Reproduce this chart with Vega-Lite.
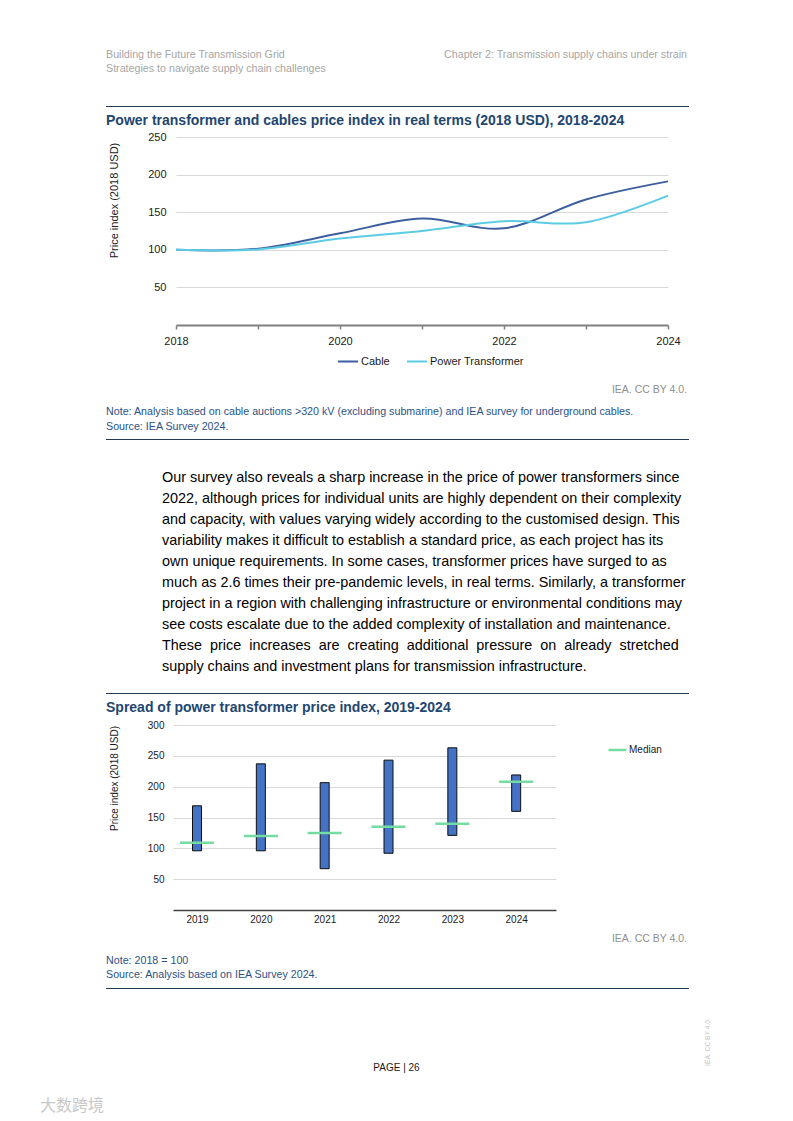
{
  "$schema": "https://vega.github.io/schema/vega-lite/v6.json",
  "padding": 0,
  "background": "white",
  "datasets": {
    "empty": [],
    "prices": [
      {"year": 2018, "series": "Cable", "value": 100},
      {"year": 2019, "series": "Cable", "value": 101.5},
      {"year": 2020, "series": "Cable", "value": 122},
      {"year": 2021, "series": "Cable", "value": 141.5},
      {"year": 2022, "series": "Cable", "value": 128.5},
      {"year": 2023, "series": "Cable", "value": 167},
      {"year": 2024, "series": "Cable", "value": 191},
      {"year": 2018, "series": "Power Transformer", "value": 100},
      {"year": 2019, "series": "Power Transformer", "value": 100.5},
      {"year": 2020, "series": "Power Transformer", "value": 115},
      {"year": 2021, "series": "Power Transformer", "value": 125},
      {"year": 2022, "series": "Power Transformer", "value": 138},
      {"year": 2023, "series": "Power Transformer", "value": 136.5},
      {"year": 2024, "series": "Power Transformer", "value": 172}
    ],
    "spread": [
      {"year": "2019", "low": 96, "high": 169, "median": 109},
      {"year": "2020", "low": 96, "high": 237, "median": 120},
      {"year": "2021", "low": 67, "high": 206.5, "median": 125},
      {"year": "2022", "low": 92, "high": 243, "median": 135},
      {"year": "2023", "low": 121, "high": 263, "median": 140},
      {"year": "2024", "low": 160, "high": 219, "median": 208}
    ]
  },
  "config": {
    "font": "Liberation Sans",
    "view": {"stroke": null},
    "title": {"anchor": "start", "frame": "group", "offset": 0, "fontWeight": "normal", "font": "Liberation Sans"},
    "axis": {"labelFont": "Liberation Sans", "titleFont": "Liberation Sans", "labelOverlap": false},
    "legend": {"labelFont": "Liberation Sans"}
  },
  "spacing": 0,
  "bounds": "flush",
  "resolve": {"scale": {"color": "independent", "stroke": "independent"}, "legend": {"color": "independent", "stroke": "independent"}},
  "hconcat": [
    {"data": {"name": "empty"}, "mark": "point", "encoding": {}, "width": 106, "height": 1121},
    {
      "spacing": 0,
      "bounds": "flush",
      "vconcat": [
        {"data": {"name": "empty"}, "mark": "point", "encoding": {}, "width": 581, "height": 61},
        {"data": {"name": "empty"}, "mark": "point", "encoding": {}, "width": 581, "height": 14,
         "title": {"text": "Chapter 2: Transmission supply chains under strain", "anchor": "end", "offset": 0, "fontSize": 10.7, "color": "#a6a6a6"}},
        {"data": {"name": "empty"}, "mark": "point", "encoding": {}, "width": 581, "height": 31,
         "title": {"text": ["Building the Future Transmission Grid", "Strategies to navigate supply chain challenges"], "fontSize": 10.7, "lineHeight": 13.5, "color": "#a6a6a6", "offset": 0.5}},
        {"data": {"name": "empty"}, "mark": "point", "encoding": {}, "width": 583, "height": 1, "view": {"fill": "#1f3b57", "stroke": null}},
        {"data": {"name": "empty"}, "mark": "point", "encoding": {}, "width": 583, "height": 30,
         "title": {"text": "Power transformer and cables price index in real terms (2018 USD), 2018-2024", "fontSize": 14, "fontWeight": "bold", "color": "#22466f", "offset": -20.5}},
        {"data": {"name": "empty"}, "mark": "point", "encoding": {}, "width": 581, "height": 188},
        {"data": {"name": "empty"}, "mark": "point", "encoding": {}, "width": 581, "height": 107,
         "title": {"text": "IEA. CC BY 4.0.", "anchor": "end", "offset": -70, "fontSize": 10.5, "color": "#8f8f8f"}},
        {"data": {"name": "empty"}, "mark": "point", "encoding": {}, "width": 581, "height": 7,
         "title": {"text": ["Note: Analysis based on cable auctions >320 kV (excluding submarine) and IEA survey for underground cables.", "Source: IEA Survey 2024."], "fontSize": 10.7, "lineHeight": 15, "color": "#2b5286", "offset": -0.8}},
        {"data": {"name": "empty"}, "mark": "point", "encoding": {}, "width": 583, "height": 1, "view": {"fill": "#1f3b57", "stroke": null}},
        {"data": {"name": "empty"}, "mark": "point", "encoding": {}, "width": 583, "height": 253,
         "title": {"text": [
           "Our survey also reveals a sharp increase in the price of power transformers since",
           "2022, although prices for individual units are highly dependent on their complexity",
           "and capacity, with values varying widely according to the customised design. This",
           "variability makes it difficult to establish a standard price, as each project has its",
           "own unique requirements. In some cases, transformer prices have surged to as",
           "much as 2.6 times their pre-pandemic levels, in real terms. Similarly, a transformer",
           "project in a region with challenging infrastructure or environmental conditions may",
           "see costs escalate due to the added complexity of installation and maintenance.",
           "These \u00a0price \u00a0increases \u00a0are \u00a0creating \u00a0additional \u00a0pressure \u00a0on \u00a0already \u00a0stretched",
           "supply chains and investment plans for transmission infrastructure."
         ], "fontSize": 14.4, "lineHeight": 21, "color": "#000000", "dx": 56, "offset": -233.9}},
        {"data": {"name": "empty"}, "mark": "point", "encoding": {}, "width": 583, "height": 1, "view": {"fill": "#1f3b57", "stroke": null}},
        {"data": {"name": "empty"}, "mark": "point", "encoding": {}, "width": 583, "height": 31,
         "title": {"text": "Spread of power transformer price index, 2019-2024", "fontSize": 14, "fontWeight": "bold", "color": "#22466f", "offset": -21}},
        {"data": {"name": "empty"}, "mark": "point", "encoding": {}, "width": 581, "height": 185},
        {"data": {"name": "empty"}, "mark": "point", "encoding": {}, "width": 581, "height": 69,
         "title": {"text": "IEA. CC BY 4.0.", "anchor": "end", "offset": -34, "fontSize": 10.5, "color": "#8f8f8f"}},
        {"data": {"name": "empty"}, "mark": "point", "encoding": {}, "width": 581, "height": 9,
         "title": {"text": ["Note: 2018 = 100", "Source: Analysis based on IEA Survey 2024."], "fontSize": 10.7, "lineHeight": 14, "color": "#2b5286", "offset": -2}},
        {"data": {"name": "empty"}, "mark": "point", "encoding": {}, "width": 583, "height": 1, "view": {"fill": "#1f3b57", "stroke": null}},
        {"data": {"name": "empty"}, "mark": "point", "encoding": {}, "width": 581, "height": 29},
        {"data": {"name": "empty"}, "mark": "point", "encoding": {}, "width": 581, "height": 55,
         "title": {"text": "PAGE | 26", "anchor": "middle", "offset": -55, "fontSize": 10, "color": "#1a1a1a"}},
        {"data": {"name": "empty"}, "mark": "point", "encoding": {}, "width": 581, "height": 41,
         "title": {"text": "大数跨境", "font": "Noto Sans CJK SC", "fontSize": 16, "color": "#c8c8c8", "dx": -66, "offset": -41}}
      ]
    },
    {"data": {"name": "empty"}, "mark": "point", "encoding": {}, "width": 67, "height": 1},
    {
      "spacing": 0,
      "bounds": "flush",
      "resolve": {"scale": {"stroke": "independent"}, "legend": {"stroke": "independent"}},
      "vconcat": [
        {"data": {"name": "empty"}, "mark": "point", "encoding": {}, "width": 1, "height": 725},
        {
          "width": 383,
          "height": 185,
          "data": {"name": "spread"},
          "encoding": {
            "x": {"field": "year", "type": "ordinal",
              "scale": {"type": "point", "padding": 0.5, "align": 0.376},
              "axis": {"title": null, "ticks": false, "tickSize": 0, "labelPadding": 4.5, "labelFontSize": 10,
                "labelAngle": 0, "domainColor": "#404040", "domainWidth": 1.5, "labelColor": "#1a1a1a", "grid": false}}
          },
          "layer": [
            {
              "mark": {"type": "bar", "size": 9, "fill": "#4472c4", "stroke": "#0f0f0f", "strokeWidth": 1},
              "encoding": {
                "y": {"field": "low", "type": "quantitative",
                  "scale": {"domain": [0, 300], "nice": false},
                  "axis": {"values": [50, 100, 150, 200, 250, 300], "grid": true, "gridColor": "#d9d9d9", "domain": false,
                    "ticks": false, "tickSize": 0, "labelPadding": 9, "labelFontSize": 10, "labelColor": "#1a1a1a", "labelOverlap": false,
                    "title": "Price index (2018 USD)", "titleFontSize": 10, "titleFontWeight": "normal", "titleColor": "#1a1a1a",
                    "titleX": -53.5, "titleY": 53}},
                "y2": {"field": "high"}
              }
            },
            {
              "mark": {"type": "rule", "strokeWidth": 2.5, "xOffset": -17, "x2Offset": 17},
              "encoding": {
                "x2": {"field": "year"},
                "y": {"field": "median", "type": "quantitative",
                  "scale": {"domain": [0, 300], "nice": false},
                  "axis": {"values": [50, 100, 150, 200, 250, 300], "grid": true, "gridColor": "#d9d9d9", "domain": false,
                    "ticks": false, "tickSize": 0, "labelPadding": 9, "labelFontSize": 10, "labelColor": "#1a1a1a", "labelOverlap": false,
                    "title": "Price index (2018 USD)", "titleFontSize": 10, "titleFontWeight": "normal", "titleColor": "#1a1a1a",
                    "titleX": -53.5, "titleY": 53}},
                "stroke": {"datum": "Median", "type": "nominal",
                  "scale": {"domain": ["Median"], "range": ["#74dca0"]},
                  "legend": {"orient": "none", "legendX": 434, "legendY": 14.5, "title": null,
                    "symbolType": "stroke", "symbolSize": 324, "symbolStrokeWidth": 2.5, "labelFontSize": 10,
                    "labelOffset": 1, "padding": 0, "labelColor": "#1a1a1a"}}
              }
            }
          ]
        }
      ]
    },
    {"data": {"name": "empty"}, "mark": "point", "encoding": {}, "width": 3, "height": 1},
    {
      "spacing": 0,
      "bounds": "flush",
      "resolve": {"scale": {"color": "independent"}, "legend": {"color": "independent"}},
      "vconcat": [
        {"data": {"name": "empty"}, "mark": "point", "encoding": {}, "width": 1, "height": 137},
        {
          "width": 492,
          "height": 188,
          "data": {"name": "prices"},
          "mark": {"type": "line", "interpolate": "cardinal", "strokeWidth": 2},
          "encoding": {
            "x": {"field": "year", "type": "quantitative",
              "scale": {"domain": [2018, 2024], "nice": false, "zero": false},
              "axis": {"values": [2018, 2019, 2020, 2021, 2022, 2023, 2024], "format": "d",
                "labelExpr": "datum.value % 2 == 0 ? datum.label : ''",
                "labelFlush": false, "labelOverlap": false, "grid": false, "title": null,
                "domainColor": "#808080", "domainWidth": 2, "tickColor": "#808080", "tickWidth": 1.5, "tickSize": 4,
                "labelPadding": 6, "labelFontSize": 11, "labelColor": "#1a1a1a"}},
            "y": {"field": "value", "type": "quantitative",
              "scale": {"domain": [0, 250], "nice": false},
              "axis": {"values": [50, 100, 150, 200, 250], "grid": true, "gridColor": "#d9d9d9", "domain": false,
                "ticks": false, "tickSize": 0, "labelPadding": 10, "labelFontSize": 11, "labelColor": "#1a1a1a",
                "title": "Price index (2018 USD)", "titleFontSize": 11, "titleFontWeight": "normal", "titleColor": "#1a1a1a",
                "titleX": -56.5, "titleY": 63}},
            "color": {"field": "series", "type": "nominal",
              "scale": {"domain": ["Cable", "Power Transformer"], "range": ["#3d5f9f", "#5ccbe4"]},
              "legend": {"orient": "none", "legendX": 161, "legendY": 213.5, "direction": "horizontal", "title": null,
                "symbolType": "stroke", "symbolSize": 400, "symbolStrokeWidth": 2, "labelFontSize": 11,
                "labelOffset": 2, "columnPadding": 13, "padding": 0, "labelColor": "#1a1a1a"}}
          }
        }
      ]
    },
    {"data": {"name": "empty"}, "mark": "point", "encoding": {}, "width": 536, "height": 1},
    {
      "spacing": 0,
      "bounds": "flush",
      "vconcat": [
        {"data": {"name": "empty"}, "mark": "point", "encoding": {}, "width": 1, "height": 1018},
        {"data": {"name": "empty"}, "mark": "point", "encoding": {}, "width": 1, "height": 48,
         "title": {"text": "IEA. CC BY 4.0.", "orient": "left", "anchor": "middle", "offset": 0, "fontSize": 6.7, "color": "#c4c4c4"}}
      ]
    }
  ]
}
